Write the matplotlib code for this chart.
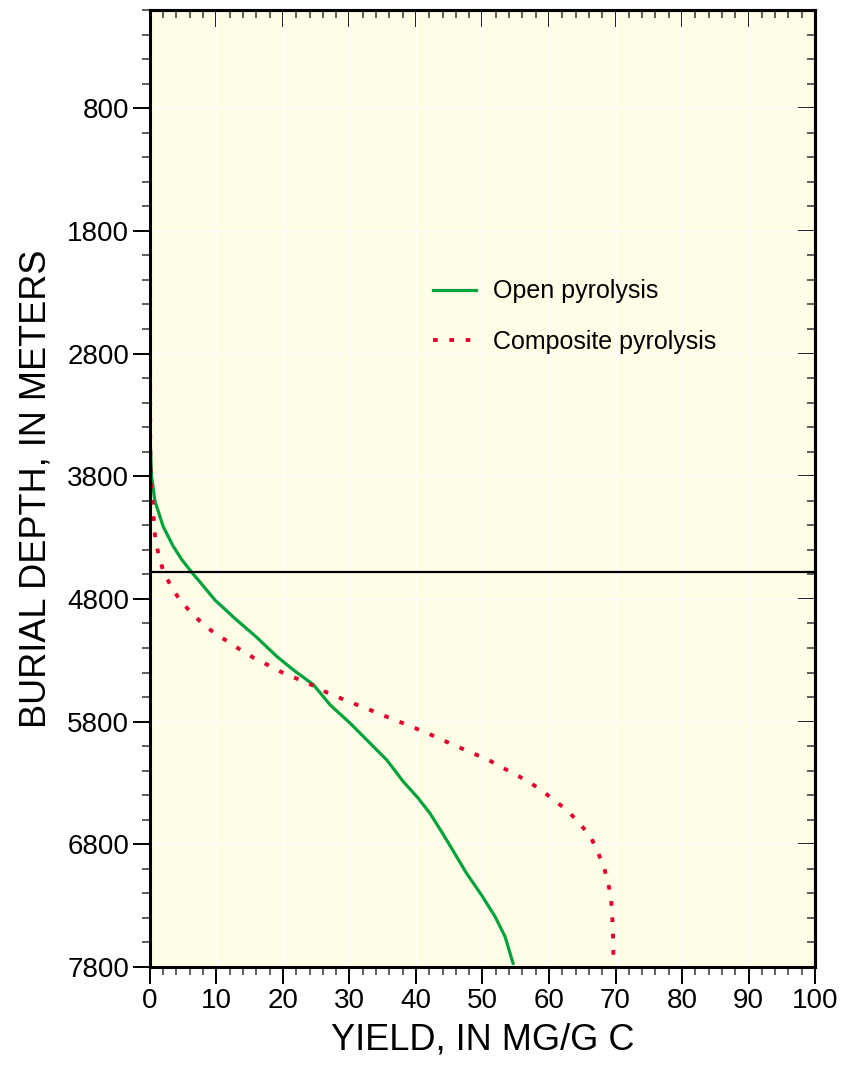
import matplotlib
matplotlib.use('Agg')
import matplotlib.pyplot as plt
from matplotlib.ticker import MultipleLocator, FixedLocator

# ── colours ──────────────────────────────────────────────────────────
PANEL    = '#FFFDE6'
GREEN    = '#00A33C'
RED      = '#E2002B'
INK      = '#000000'

plt.rcParams['font.family'] = ['Liberation Sans', 'DejaVu Sans']

# ── yield curves (depth in m, yield in mg/g C) ───────────────────────
open_depth = [0, 2000, 3500, 3800, 4000, 4210, 4370, 4480, 4590, 4660,
              4810, 4970, 5110, 5270, 5380, 5500, 5664, 5813, 5976,
              6112, 6289, 6425, 6547, 6697, 6832, 7036, 7213, 7390,
              7553, 7770]
open_yield = [0.0, 0.0, 0.05, 0.25, 0.75, 2.0, 3.5, 4.8, 6.4, 7.5,
              9.8, 13.0, 16.0, 19.1, 21.6, 24.6, 27.1, 30.1, 33.1,
              35.6, 38.1, 40.35, 42.1, 43.85, 45.35, 47.6, 49.85, 51.9,
              53.4, 54.6]

comp_depth = [0, 2000, 3500, 3800, 4060, 4190, 4320, 4450, 4570, 4690,
              4800, 4900, 4990, 5070, 5140, 5210, 5280, 5340, 5400,
              5450, 5500, 5560, 5610, 5656, 5705, 5754, 5803, 5852,
              5901, 5955, 6010, 6059, 6112, 6175, 6235, 6295, 6370,
              6530, 6730, 6970, 7210, 7470, 7740]
comp_yield = [0.0, 0.0, 0.05, 0.1, 0.5, 0.6, 0.85, 1.35, 2.0, 3.1,
              4.4, 6.0, 7.7, 9.5, 11.5, 13.5, 15.6, 17.8, 19.9,
              22.1, 24.3, 26.5, 28.7, 30.8, 33.1, 35.3, 37.6, 39.8,
              42.0, 44.2, 46.5, 48.6, 50.9, 53.0, 55.1, 57.1, 59.1,
              62.9, 66.2, 68.2, 69.3, 69.6, 69.7]

marker_depth = 4580
x_ticks = list(range(0, 101, 10))
y_ticks = list(range(800, 7801, 1000))

fig = plt.figure(figsize=(8.42, 10.66), dpi=100)
fig.patch.set_facecolor('white')
ax = fig.add_axes([0.178, 0.0929, 0.79, 0.8977])
ax.set_facecolor(PANEL)

ax.set_xlim(0, 100)
ax.set_ylim(7800, 0)

# faint white grid at major ticks
for v in x_ticks[1:-1]:
    ax.axvline(v, color='white', lw=0.9, zorder=1)
for v in y_ticks[:-1]:
    ax.axhline(v, color='white', lw=0.9, zorder=1)

ax.plot(open_yield, open_depth, color=GREEN, lw=2.3, zorder=3,
        label='Open pyrolysis')
ax.plot(comp_yield, comp_depth, color=RED, lw=2.8, zorder=3,
        linestyle=(0, (1.2, 3.0)), dash_capstyle='butt',
        label='Composite pyrolysis')
ax.axhline(marker_depth, color=INK, lw=1.6, zorder=4)

# ── axes, ticks ──────────────────────────────────────────────────────
for s in ax.spines.values():
    s.set_linewidth(2.2)
    s.set_zorder(5)

ax.xaxis.set_major_locator(FixedLocator(x_ticks))
ax.xaxis.set_minor_locator(MultipleLocator(2))
ax.yaxis.set_major_locator(FixedLocator(y_ticks))
ax.yaxis.set_minor_locator(MultipleLocator(200))
ax.tick_params(which='major', direction='out', length=12, width=1.4,
               labelsize=20, pad=3, colors=INK)
ax.tick_params(which='minor', direction='out', length=6, width=1.1,
               colors='#333333')

# inward ticks on top and right
top = ax.secondary_xaxis('top')
top.xaxis.set_major_locator(FixedLocator(x_ticks))
top.xaxis.set_minor_locator(MultipleLocator(2))
top.tick_params(which='major', direction='in', length=12, width=1.4,
                labeltop=False)
top.tick_params(which='minor', direction='in', length=6, width=1.1,
                colors='#333333')
top.spines['top'].set_linewidth(2.2)

right = ax.secondary_yaxis('right')
right.yaxis.set_major_locator(FixedLocator(y_ticks))
right.yaxis.set_minor_locator(MultipleLocator(200))
right.tick_params(which='major', direction='in', length=12, width=1.4,
                  labelright=False)
right.tick_params(which='minor', direction='in', length=6, width=1.1,
                  colors='#333333')
right.spines['right'].set_linewidth(2.2)

ax.set_xlabel('YIELD, IN MG/G C', fontsize=26, labelpad=6)
ax.set_ylabel('BURIAL DEPTH, IN METERS', fontsize=26, labelpad=10)

leg = ax.legend(loc='upper left', bbox_to_anchor=(0.392, 0.742),
                frameon=False, fontsize=18, handlelength=1.7,
                handletextpad=0.7, labelspacing=1.05)

fig.savefig('out.png', dpi=100, facecolor='white')
plt.close()
